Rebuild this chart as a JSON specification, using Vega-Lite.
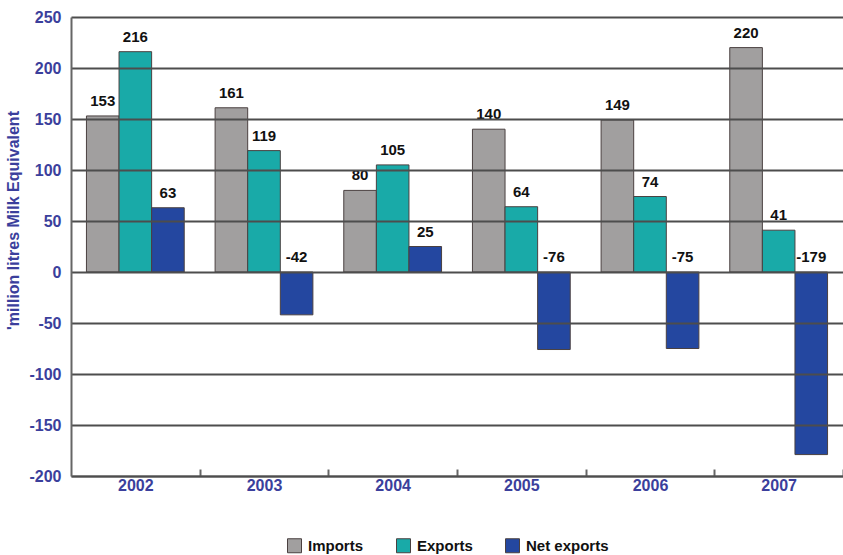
{
  "$schema": "https://vega.github.io/schema/vega-lite/v6.json",
  "width": 772,
  "height": 459,
  "autosize": "none",
  "padding": {"left": 71, "top": 17, "right": 0, "bottom": 79},
  "background": "white",
  "config": {"view": {"stroke": null}, "font": "Liberation Sans"},
  "data": {
    "values": [
      {"year": "2002", "series": "Imports", "value": 153},
      {"year": "2002", "series": "Exports", "value": 216},
      {"year": "2002", "series": "Net exports", "value": 63},
      {"year": "2003", "series": "Imports", "value": 161},
      {"year": "2003", "series": "Exports", "value": 119},
      {"year": "2003", "series": "Net exports", "value": -42},
      {"year": "2004", "series": "Imports", "value": 80},
      {"year": "2004", "series": "Exports", "value": 105},
      {"year": "2004", "series": "Net exports", "value": 25},
      {"year": "2005", "series": "Imports", "value": 140},
      {"year": "2005", "series": "Exports", "value": 64},
      {"year": "2005", "series": "Net exports", "value": -76},
      {"year": "2006", "series": "Imports", "value": 149},
      {"year": "2006", "series": "Exports", "value": 74},
      {"year": "2006", "series": "Net exports", "value": -75},
      {"year": "2007", "series": "Imports", "value": 220},
      {"year": "2007", "series": "Exports", "value": 41},
      {"year": "2007", "series": "Net exports", "value": -179}
    ]
  },
  "encoding": {
    "x": {
      "field": "year",
      "type": "nominal",
      "scale": {"paddingInner": 0.24, "paddingOuter": 0.12},
      "axis": {
        "title": null,
        "labelAngle": 0,
        "labelFont": "Liberation Sans",
        "labelFontWeight": "bold",
        "labelFontSize": 16,
        "labelColor": "#3b3f9c",
        "labelPadding": 8,
        "tickOffset": 64.33,
        "labelOffset": -64.33,
        "tickSize": -7,
        "tickColor": "#666666",
        "tickWidth": 2,
        "domainColor": "#666666",
        "domainWidth": 2
      }
    },
    "xOffset": {"field": "series", "type": "nominal", "sort": ["Imports", "Exports", "Net exports"], "scale": {"paddingInner": 0, "paddingOuter": 0}}
  },
  "layer": [
    {
      "mark": {"type": "bar", "stroke": "#4a4040", "strokeWidth": 1},
      "encoding": {
        "y": {
          "field": "value",
          "type": "quantitative",
          "scale": {"domain": [-200, 250], "nice": false},
          "axis": {
            "title": "'million litres Milk Equivalent",
            "titleFont": "Liberation Sans",
            "titleFontWeight": "bold",
            "titleFontSize": 16,
            "titleColor": "#3b3f9c",
            "titleX": -50,
            "titleY": 203,
            "values": [-200, -150, -100, -50, 0, 50, 100, 150, 200, 250],
            "labelExpr": "datum.value + ''",
            "labelFont": "Liberation Sans",
            "labelFontWeight": "bold",
            "labelFontSize": 16,
            "labelColor": "#3b3f9c",
            "labelPadding": 10,
            "ticks": false,
            "grid": true,
            "gridColor": "#4d4d4d",
            "gridWidth": 1.8,
            "gridOpacity": 1,
            "domainColor": "#666666",
            "domainWidth": 2,
            "zindex": 1
          }
        },
        "color": {
          "field": "series",
          "type": "nominal",
          "sort": ["Imports", "Exports", "Net exports"],
          "scale": {"domain": ["Imports", "Exports", "Net exports"], "range": ["#a19f9f", "#19aaa8", "#2447a0"]},
          "legend": {
            "title": null,
            "orient": "none",
            "direction": "horizontal",
            "legendX": 216,
            "legendY": 521,
            "symbolType": "square",
            "symbolSize": 196,
            "symbolStrokeColor": "#4a4040",
            "symbolStrokeWidth": 1,
            "labelFont": "Liberation Sans",
            "labelFontWeight": "bold",
            "labelFontSize": 15,
            "labelColor": "#111111",
            "labelOffset": 6,
            "columnPadding": 30
          }
        }
      }
    },
    {
      "transform": [{"calculate": "max(datum.value, 0)", "as": "labelPos"}],
      "mark": {"type": "text", "baseline": "bottom", "dy": -7, "fontWeight": "bold", "fontSize": 15, "font": "Liberation Sans", "color": "#111111"},
      "encoding": {
        "y": {"field": "labelPos", "type": "quantitative"},
        "text": {"field": "value", "type": "nominal"}
      }
    }
  ]
}
